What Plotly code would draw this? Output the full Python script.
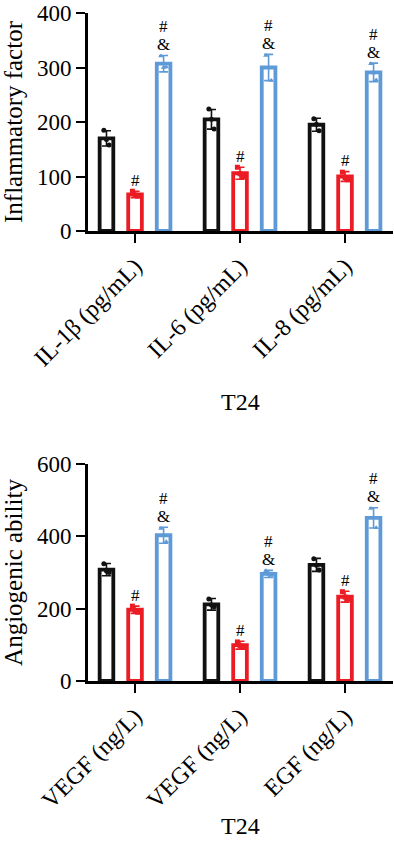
import plotly.graph_objects as go

# ---------------- data ----------------
top_categories = ["IL-1β (pg/mL)", "IL-6 (pg/mL)", "IL-8 (pg/mL)"]
top_black_mean = [170, 205, 195]
top_black_sd = [14, 18, 12]
top_red_mean = [67, 106, 100]
top_red_sd = [6, 11, 9]
top_blue_mean = [307, 300, 291]
top_blue_sd = [15, 24, 17]
top_black_pts = [[185, 168, 158], [224, 205, 187], [206, 196, 184]]
top_red_pts = [[73, 66, 64], [117, 105, 100], [108, 98, 94]]
top_blue_pts = [[321, 300, 301], [322, 300, 276], [307, 290, 277]]

bot_categories = ["VEGF (ng/L)", "VEGF (ng/L)", "EGF (ng/L)"]
bot_black_mean = [308, 212, 321]
bot_black_sd = [17, 16, 18]
bot_red_mean = [197, 99, 233]
bot_red_sd = [10, 11, 15]
bot_blue_mean = [403, 296, 451]
bot_blue_sd = [22, 10, 28]
bot_black_pts = [[324, 304, 300], [227, 210, 205], [338, 320, 307]]
bot_red_pts = [[207, 195, 190], [108, 98, 93], [247, 232, 226]]
bot_blue_pts = [[422, 403, 385], [305, 295, 292], [477, 452, 424]]

top_red_marks = ["#", "#", "#"]
top_blue_marks = [["#", "&"], ["#", "&"], ["#", "&"]]
bot_red_marks = ["#", "#", "#"]
bot_blue_marks = [["#", "&"], ["#", "&"], ["#", "&"]]

top_ylabel = "Inflammatory factor"
bot_ylabel = "Angiogenic ability"
xlabel = "T24"

# ---------------- style ----------------
FONT = "Liberation Serif"
BLACK = "#111111"
RED = "#ec1c24"
BLUE = "#5f9ad8"
W, H = 394, 845
BAR_W = 0.13
OFFS = [-0.272, 0.0, 0.272]
JIT = [-0.025, 0.0, 0.025]
SYMS = ["circle", "square", "triangle-up"]
COLORS = [BLACK, RED, BLUE]
MARK_FONT = dict(family=FONT, size=17, color="black")

fig = go.Figure()


def add_panel(means, sds, pts, xa, ya, red_marks, blue_marks):
    n = len(means[0])
    idx = list(range(n))
    for k in range(3):
        xs = [i + OFFS[k] for i in idx]
        fig.add_trace(go.Bar(
            x=xs, y=means[k], width=BAR_W,
            marker=dict(color="rgba(255,255,255,0)", line=dict(color=COLORS[k], width=3.8)),
            error_y=dict(type="data", array=sds[k], color=COLORS[k], thickness=1.6, width=4.5),
            xaxis=xa, yaxis=ya, showlegend=False, hoverinfo="skip",
        ))
        px, py = [], []
        for i in idx:
            for j, v in enumerate(pts[k][i]):
                px.append(i + OFFS[k] + JIT[j])
                py.append(v)
        fig.add_trace(go.Scatter(
            x=px, y=py, mode="markers",
            marker=dict(symbol=SYMS[k], size=5, color=COLORS[k]),
            xaxis=xa, yaxis=ya, showlegend=False, hoverinfo="skip",
        ))
    xref = "x" if xa == "x" else "x2"
    yref = "y" if ya == "y" else "y2"
    for i in idx:
        fig.add_annotation(x=i + OFFS[1], y=means[1][i] + sds[1][i], xref=xref, yref=yref,
                           text=red_marks[i], showarrow=False, yanchor="middle", yshift=11,
                           borderpad=0, font=MARK_FONT)
        top = means[2][i] + sds[2][i]
        fig.add_annotation(x=i + OFFS[2], y=top, xref=xref, yref=yref,
                           text=blue_marks[i][1], showarrow=False, yanchor="middle", yshift=11,
                           borderpad=0, font=MARK_FONT)
        fig.add_annotation(x=i + OFFS[2], y=top, xref=xref, yref=yref,
                           text=blue_marks[i][0], showarrow=False, yanchor="middle", yshift=29,
                           borderpad=0, font=MARK_FONT)


add_panel([top_black_mean, top_red_mean, top_blue_mean],
          [top_black_sd, top_red_sd, top_blue_sd],
          [top_black_pts, top_red_pts, top_blue_pts], "x", "y",
          top_red_marks, top_blue_marks)
add_panel([bot_black_mean, bot_red_mean, bot_blue_mean],
          [bot_black_sd, bot_red_sd, bot_blue_sd],
          [bot_black_pts, bot_red_pts, bot_blue_pts], "x2", "y2",
          bot_red_marks, bot_blue_marks)

xdom = [88 / W, 393 / W]
top_dom = [1 - 231 / H, 1 - 13 / H]
bot_dom = [1 - 681 / H, 1 - 464 / H]

xcommon = dict(range=[-0.448, 2.457], showline=True, linecolor="black", linewidth=2.8,
               ticks="outside", ticklen=9, tickwidth=2.4, tickcolor="black",
               tickangle=-45, showgrid=False, zeroline=False, automargin=False,
               tickfont=dict(family=FONT, size=24, color="black"), tickvals=[0, 1, 2])
ycommon = dict(showline=True, linecolor="black", linewidth=2.8,
               ticks="outside", ticklen=9, tickwidth=2.4, tickcolor="black",
               showgrid=False, zeroline=False, automargin=False,
               tickfont=dict(family=FONT, size=23, color="black"))

fig.update_layout(
    width=W, height=H,
    template="none",
    paper_bgcolor="white", plot_bgcolor="white",
    margin=dict(l=0, r=0, t=0, b=0),
    barmode="overlay",
    xaxis=dict(domain=xdom, anchor="y", ticktext=top_categories, **xcommon),
    yaxis=dict(domain=top_dom, anchor="x", range=[0, 400], dtick=100,
               title=dict(text=top_ylabel, font=dict(family=FONT, size=25, color="black"), standoff=8),
               **ycommon),
    xaxis2=dict(domain=xdom, anchor="y2", ticktext=bot_categories, **xcommon),
    yaxis2=dict(domain=bot_dom, anchor="x2", range=[0, 600], dtick=200,
                title=dict(text=bot_ylabel, font=dict(family=FONT, size=25, color="black"), standoff=8),
                **ycommon),
)

fig.add_annotation(x=240.5 / W, y=1 - 402 / H, xref="paper", yref="paper", text=xlabel,
                   showarrow=False, font=dict(family=FONT, size=24, color="black"),
                   xanchor="center", yanchor="middle")
fig.add_annotation(x=240.5 / W, y=1 - 826 / H, xref="paper", yref="paper", text=xlabel,
                   showarrow=False, font=dict(family=FONT, size=24, color="black"),
                   xanchor="center", yanchor="middle")

fig.write_html("out.html", config={"displayModeBar": False},
               post_script="document.body.style.margin='0';document.body.style.overflow='hidden';")
